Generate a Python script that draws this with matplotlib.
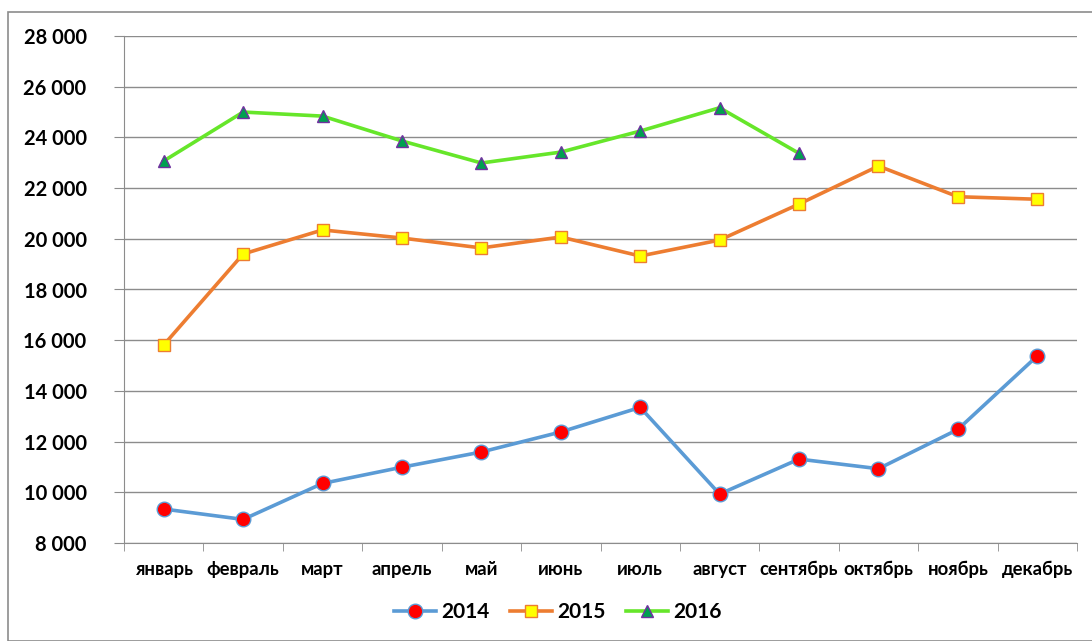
import matplotlib
matplotlib.use("Agg")
import matplotlib.pyplot as plt
import numpy as np
from matplotlib.patches import Rectangle
from matplotlib.ticker import FuncFormatter

plt.rcParams['font.family'] = ['Lato', 'DejaVu Sans']

months = ['январь', 'февраль', 'март', 'апрель', 'май', 'июнь',
          'июль', 'август', 'сентябрь', 'октябрь', 'ноябрь', 'декабрь']
v2014 = [9340, 8930, 10350, 10990, 11590, 12380, 13350, 9930, 11310, 10930, 12480, 15380]
v2015 = [15810, 19400, 20350, 20030, 19640, 20070, 19320, 19950, 21370, 22870, 21660, 21560]
v2016 = [23070, 25000, 24840, 23860, 22990, 23420, 24250, 25170, 23370]

W, H = 1092, 641
fig = plt.figure(figsize=(W / 100, H / 100), dpi=100)
fig.patches.append(Rectangle((8 / W, 0), 1.2, 1 - 12 / H, transform=fig.transFigure,
                             fill=False, edgecolor='#8c8c8c', linewidth=1.2))

ax = fig.add_axes([124 / W, (H - 543) / H, (1077 - 124) / W, (543 - 36) / H])
x = np.arange(len(months))

ax.plot(x, v2014, color='#5b9bd5', lw=2.6, marker='o', ms=10.5,
        mfc='#ff0000', mec='#5b9bd5', mew=1, label='2014', zorder=3)
ax.plot(x, v2015, color='#ed7d31', lw=2.6, marker='s', ms=8.5,
        mfc='#ffff00', mec='#ed7d31', mew=1, label='2015', zorder=3)
ax.plot(x[:len(v2016)], v2016, color='#66e62a', lw=2.6, marker='^', ms=9,
        mfc='#00a050', mec='#7030a0', mew=1, label='2016', zorder=3)

ax.set_xlim(-0.5, len(months) - 0.5)
ax.set_ylim(8000, 28000)
ax.set_yticks(np.arange(8000, 28001, 2000))
ax.yaxis.set_major_formatter(FuncFormatter(lambda v, p: f'{int(v):,}'.replace(',', ' ')))
ax.grid(axis='y', color='#8c8c8c', lw=1)
ax.set_axisbelow(True)

ax.set_xticks(x)
ax.set_xticklabels(months)
ax.set_xticks(np.arange(-0.5, len(months)), minor=True)
ax.tick_params(axis='x', which='major', length=0, pad=13)
ax.tick_params(axis='x', which='minor', length=6, color='#8c8c8c')
ax.tick_params(axis='y', length=7, color='#8c8c8c', pad=20)
for lab in ax.get_xticklabels():
    lab.set_fontweight('bold')
    lab.set_fontsize(13.3)
for lab in ax.get_yticklabels():
    lab.set_fontweight('bold')
    lab.set_fontsize(14.5)

for s in ['top', 'right']:
    ax.spines[s].set_visible(False)
for s in ['left', 'bottom']:
    ax.spines[s].set_color('#8c8c8c')

leg = fig.legend(loc='center', bbox_to_anchor=(558 / W, (H - 612) / H), ncol=3, frameon=False,
                 prop={'weight': 'bold', 'size': 15}, handlelength=2.0, columnspacing=1.0,
                 handletextpad=0.25, borderpad=0)

fig.savefig('out.png', dpi=100)
